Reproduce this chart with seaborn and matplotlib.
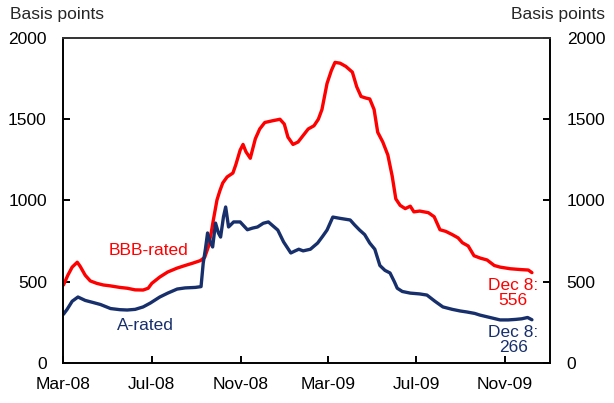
import pandas as pd
import seaborn as sns
import matplotlib.pyplot as plt

# BBB-rated spread, basis points
bbb_dates = ['2008-03-01', '2008-03-07', '2008-03-13', '2008-03-20', '2008-03-24', '2008-03-31',
             '2008-04-07', '2008-04-16', '2008-04-25', '2008-05-04', '2008-05-18', '2008-05-28',
             '2008-06-08', '2008-06-19', '2008-06-26', '2008-07-01', '2008-07-12', '2008-07-23',
             '2008-08-05', '2008-08-16', '2008-08-27', '2008-09-06', '2008-09-12', '2008-09-17',
             '2008-09-21', '2008-09-24', '2008-09-29', '2008-10-03', '2008-10-07', '2008-10-13',
             '2008-10-21', '2008-10-25', '2008-10-31', '2008-11-04', '2008-11-08', '2008-11-14',
             '2008-11-21', '2008-11-27', '2008-12-04', '2008-12-14', '2008-12-25', '2008-12-31',
             '2009-01-05', '2009-01-12', '2009-01-19', '2009-01-26', '2009-02-02', '2009-02-10',
             '2009-02-16', '2009-02-21', '2009-02-28', '2009-03-06', '2009-03-11', '2009-03-18',
             '2009-03-26', '2009-04-04', '2009-04-10', '2009-04-16', '2009-04-23', '2009-04-28',
             '2009-05-04', '2009-05-09', '2009-05-16', '2009-05-23', '2009-05-29', '2009-06-03',
             '2009-06-09', '2009-06-16', '2009-06-23', '2009-06-28', '2009-07-06', '2009-07-18',
             '2009-07-26', '2009-08-03', '2009-08-11', '2009-08-20', '2009-08-28', '2009-09-03',
             '2009-09-11', '2009-09-19', '2009-09-28', '2009-10-07', '2009-10-17', '2009-10-25',
             '2009-11-08', '2009-11-22', '2009-12-03', '2009-12-08']
bbb_values = [480, 540, 590, 620, 595, 540,
              505, 490, 480, 475, 465, 460,
              450, 449, 460, 490, 529, 560,
              584, 600, 615, 630, 650, 714,
              800, 880, 1003, 1060, 1108, 1145,
              1169, 1220, 1310, 1345, 1300, 1260,
              1380, 1440, 1480, 1490, 1500, 1470,
              1390, 1345, 1360, 1400, 1440, 1460,
              1500, 1560, 1720, 1800, 1850, 1845,
              1825, 1790, 1700, 1640, 1630, 1625,
              1560, 1420, 1360, 1280, 1150, 1010,
              970, 950, 965, 930, 935, 925,
              900, 820, 810, 790, 770, 740,
              720, 660, 645, 634, 600, 590,
              580, 575, 572, 556]

# A-rated spread, basis points
a_dates = ['2008-03-01', '2008-03-06', '2008-03-13', '2008-03-21', '2008-03-31', '2008-04-11',
           '2008-04-21', '2008-05-05', '2008-05-18', '2008-05-28', '2008-06-08', '2008-06-19',
           '2008-06-29', '2008-07-12', '2008-07-23', '2008-08-05', '2008-08-16', '2008-08-30',
           '2008-09-07', '2008-09-10', '2008-09-13', '2008-09-16', '2008-09-20', '2008-09-23',
           '2008-09-27', '2008-10-01', '2008-10-04', '2008-10-08', '2008-10-11', '2008-10-15',
           '2008-10-22', '2008-10-31', '2008-11-10', '2008-11-17', '2008-11-24', '2008-12-02',
           '2008-12-09', '2008-12-22', '2008-12-30', '2009-01-09', '2009-01-15', '2009-01-20',
           '2009-01-26', '2009-02-05', '2009-02-15', '2009-02-22', '2009-02-28', '2009-03-08',
           '2009-03-18', '2009-04-01', '2009-04-07', '2009-04-14', '2009-04-21', '2009-04-28',
           '2009-05-05', '2009-05-12', '2009-05-19', '2009-05-26', '2009-06-01', '2009-06-05',
           '2009-06-12', '2009-06-23', '2009-07-06', '2009-07-16', '2009-07-27', '2009-08-07',
           '2009-08-20', '2009-08-31', '2009-09-09', '2009-09-20', '2009-09-27', '2009-10-11',
           '2009-10-25', '2009-11-05', '2009-11-15', '2009-11-24', '2009-12-02', '2009-12-08']
a_values = [300, 330, 380, 406, 385, 372,
            360, 335, 328, 326, 330, 345,
            369, 406, 430, 455, 462, 465,
            470, 615, 700, 800, 740, 714,
            861, 800, 775, 900, 960, 837,
            868, 868, 820, 830, 837, 860,
            868, 818, 745, 677, 690, 700,
            690, 700, 738, 780, 818, 898,
            890, 880, 850, 818, 790, 738,
            700, 600, 570, 554, 500, 460,
            440, 430, 425, 418, 380, 345,
            330, 320, 314, 305, 295, 280,
            265, 265, 268, 272, 280, 266]

tick_dates = ['2008-03-01', '2008-07-01', '2008-11-01', '2009-03-01', '2009-07-01', '2009-11-01']
tick_labels = ['Mar-08', 'Jul-08', 'Nov-08', 'Mar-09', 'Jul-09', 'Nov-09']
y_ticks = [0, 500, 1000, 1500, 2000]

df = pd.concat([
    pd.DataFrame({'date': pd.to_datetime(bbb_dates), 'bp': bbb_values, 'series': 'BBB-rated'}),
    pd.DataFrame({'date': pd.to_datetime(a_dates), 'bp': a_values, 'series': 'A-rated'}),
])

sns.set_style('white')
plt.rcParams['font.family'] = ['Liberation Sans', 'DejaVu Sans']

RED = '#ff0000'
NAVY = '#172f6b'

fig = plt.figure(figsize=(6.14, 4.03), dpi=100)
ax = fig.add_axes([0.1034, 0.0993, 0.7924, 0.8064])

sns.lineplot(data=df, x='date', y='bp', hue='series', palette={'BBB-rated': RED, 'A-rated': NAVY},
             linewidth=2.4, legend=False, ax=ax)

ax.set_xlim(pd.Timestamp('2008-03-01'), pd.Timestamp('2010-01-02'))
ax.set_ylim(0, 2000)
ax.set_xticks(pd.to_datetime(tick_dates))
ax.set_xticklabels(tick_labels)
ax.set_yticks(y_ticks)
ax.set_xlabel('')
ax.set_ylabel('')

for s in ax.spines.values():
    s.set_visible(True)
    s.set_color('black')
    s.set_linewidth(1.4)
ax.spines['top'].set_color('#333333')

ax.tick_params(axis='both', direction='in', length=5, width=1.4, labelsize=12.5, colors='black')
ax.tick_params(axis='y', left=True, right=True, labelleft=True, labelright=True, pad=12)
ax.tick_params(axis='x', bottom=True, pad=10)

fig.text(0.016, 0.965, 'Basis points', fontsize=12.5, ha='left', va='center')
fig.text(0.985, 0.965, 'Basis points', fontsize=12.5, ha='right', va='center')

ax.text(pd.Timestamp('2008-06-27'), 690, 'BBB-rated', color=RED, fontsize=12.5, ha='center', va='center')
ax.text(pd.Timestamp('2008-06-22'), 228, 'A-rated', color=NAVY, fontsize=12.5, ha='center', va='center')
ax.text(pd.Timestamp('2009-11-12'), 430, 'Dec 8:\n556', color=RED, fontsize=12.5, ha='center',
        va='center', linespacing=1.0)
ax.text(pd.Timestamp('2009-11-12'), 142, 'Dec 8:\n266', color=NAVY, fontsize=12.5, ha='center',
        va='center', linespacing=1.0)

fig.savefig('out.png', dpi=100)
